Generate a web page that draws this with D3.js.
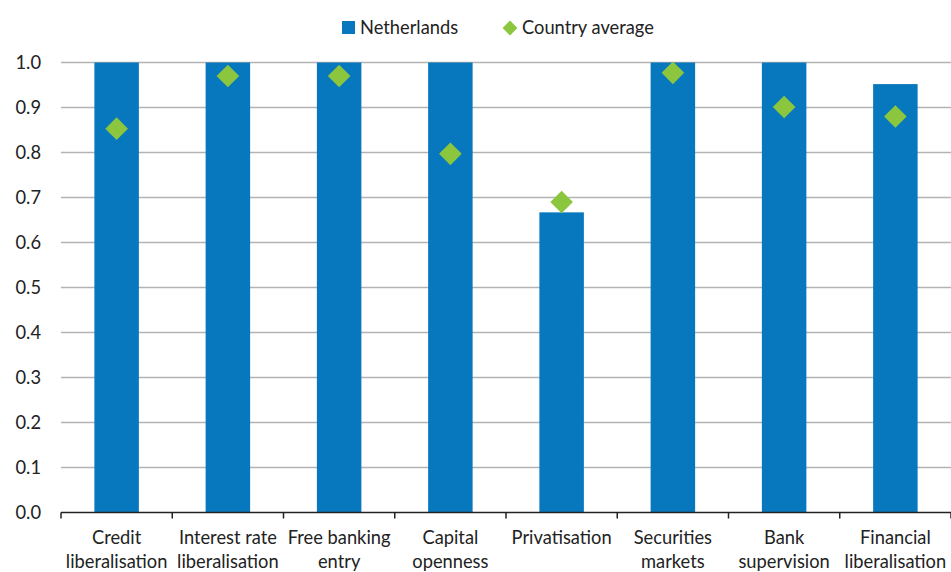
<!DOCTYPE html>
<html><head><meta charset="utf-8">
<script src="https://cdn.jsdelivr.net/npm/d3@7"></script>
<style>body{margin:0;background:#fff;} text{font-family:Lato, "Open Sans", sans-serif;}</style>
</head><body>
<svg id="c" width="951" height="572"></svg>
<script>
const categories = [["Credit","liberalisation"],["Interest rate","liberalisation"],["Free banking","entry"],["Capital","openness"],["Privatisation"],["Securities","markets"],["Bank","supervision"],["Financial","liberalisation"]];
const netherlands = [1, 1, 1, 1, 0.667, 1, 1, 0.952];
const countryAverage = [0.853, 0.970, 0.970, 0.797, 0.690, 0.977, 0.901, 0.880];
const yTicks = [0,0.1,0.2,0.3,0.4,0.5,0.6,0.7,0.8,0.9,1.0];
const seriesNames = ["Netherlands","Country average"];

(function(){
const svg = d3.select("#c");
const mLeft = 61, mRight = 951, mTop = 62.5, mBottom = 512.5;
const xb = d3.scaleBand().domain(d3.range(categories.length)).range([mLeft, mRight]);
const barW = xb.bandwidth()*0.4;
const y = d3.scaleLinear().domain([0,1]).range([mBottom, mTop]);
const fs = 18.3;

svg.append("g").selectAll("line").data(yTicks.slice(1)).join("line")
  .attr("x1", mLeft).attr("x2", mRight).attr("y1", d=>y(d)).attr("y2", d=>y(d))
  .attr("stroke", "#b3b3b3").attr("stroke-width", 1.3);

svg.append("g").selectAll("text").data(yTicks).join("text")
  .attr("x", 41).attr("y", d=>y(d)).attr("dy","0.35em").attr("text-anchor","end")
  .attr("font-size", fs).attr("fill","#222").text(d=>d.toFixed(1));

svg.append("g").selectAll("rect").data(netherlands).join("rect")
  .attr("x", (d,i)=>xb(i)+(xb.bandwidth()-barW)/2).attr("width", barW)
  .attr("y", d=>y(d)).attr("height", d=>y(0)-y(d)).attr("fill", "#0878BE");

svg.append("line").attr("x1", mLeft).attr("x2", mRight).attr("y1", mBottom).attr("y2", mBottom)
  .attr("stroke","#222").attr("stroke-width",1.5);
svg.append("g").selectAll("line").data(d3.range(categories.length+1)).join("line")
  .attr("x1", i=> i<categories.length ? xb(i) : mRight).attr("x2", i=> i<categories.length ? xb(i) : mRight)
  .attr("y1", mBottom).attr("y2", mBottom+6).attr("stroke","#222").attr("stroke-width",1.5);

const diamond = d3.symbol().type(d3.symbolSquare).size(256);
svg.append("g").selectAll("path").data(countryAverage).join("path")
  .attr("d", diamond)
  .attr("transform", (d,i)=>`translate(${xb(i)+xb.bandwidth()/2},${y(d)}) rotate(45)`)
  .attr("fill", "#8CC63F");

const lab = svg.append("g").selectAll("text").data(categories).join("text")
  .attr("text-anchor","middle").attr("font-size", fs).attr("fill","#222")
  .attr("transform", (d,i)=>`translate(${xb(i)+xb.bandwidth()/2},0)`);
lab.each(function(d){
  const t = d3.select(this);
  d.forEach((s,k)=>t.append("tspan").attr("x",0).attr("y", 544 + k*24).text(s));
});

const lg = svg.append("g");
lg.append("rect").attr("x", 342).attr("y", 21).attr("width", 13).attr("height", 13).attr("fill", "#0878BE");
lg.append("text").attr("x", 360).attr("y", 28).attr("dy","0.35em").attr("font-size", fs).attr("fill","#222").text(seriesNames[0]);
lg.append("path").attr("d", d3.symbol().type(d3.symbolSquare).size(110)).attr("transform","translate(510,28) rotate(45)").attr("fill","#8CC63F");
lg.append("text").attr("x", 522).attr("y", 28).attr("dy","0.35em").attr("font-size", fs).attr("fill","#222").text(seriesNames[1]);
})();
</script>
</body></html>
